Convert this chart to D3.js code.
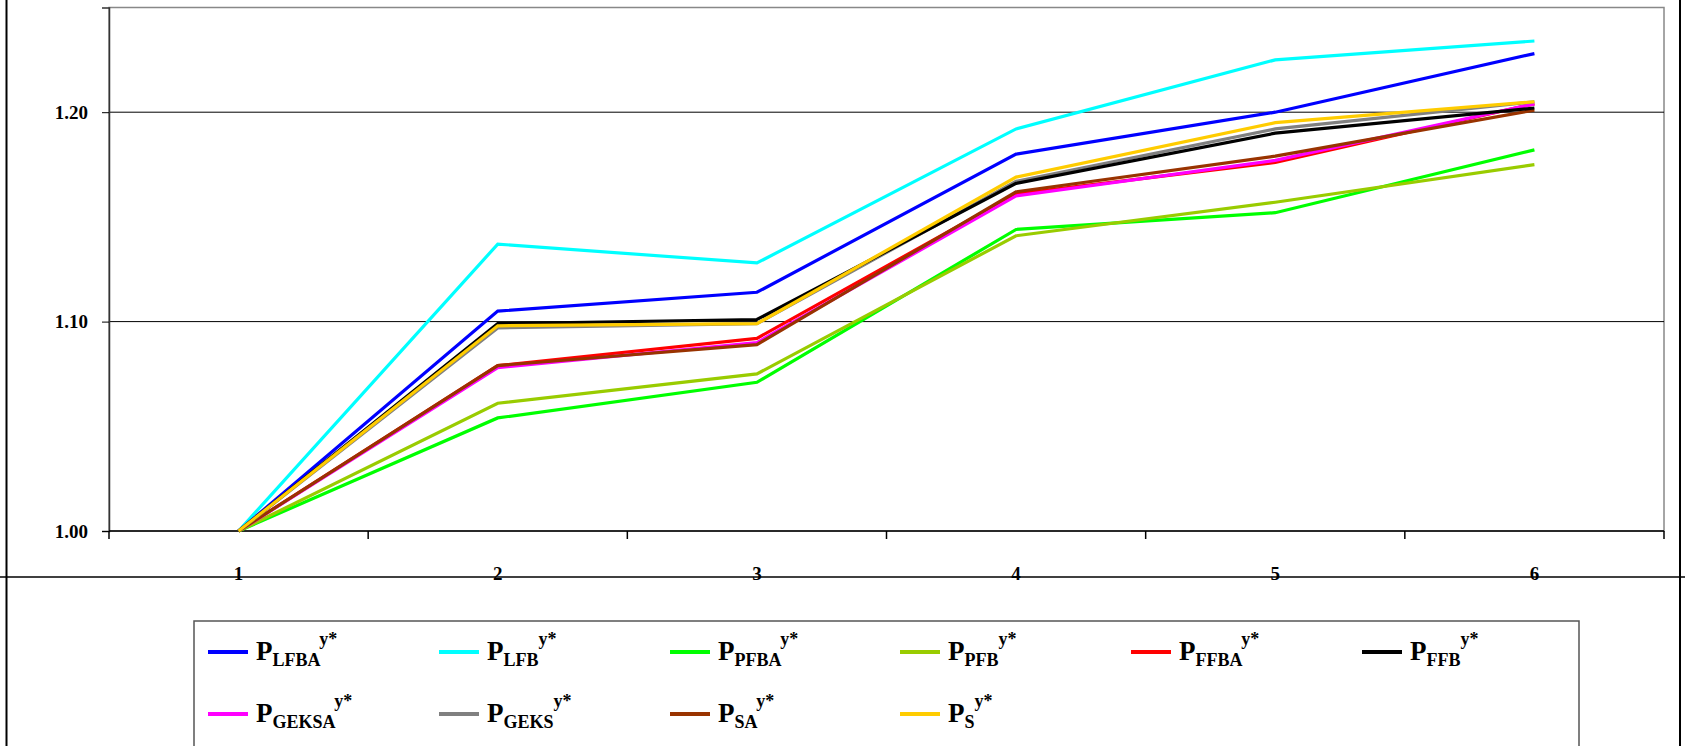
<!DOCTYPE html>
<html><head><meta charset="utf-8">
<script src="https://cdn.jsdelivr.net/npm/d3@7"></script>
<style>body{margin:0;background:#fff}svg{display:block}</style>
</head><body><div class="canvas"></div>
<script>
const categories = ["1", "2", "3", "4", "5", "6"]
const yTicks = [1.00, 1.10, 1.20]
const seriesNames = ["LFBA", "LFB", "PFBA", "PFB", "FFBA", "FFB", "GEKSA", "GEKS", "SA", "S"]
const seriesColors = ["#0000ff", "#00ffff", "#00ff00", "#99cc00", "#ff0000", "#000000", "#ff00ff", "#808080", "#993300", "#ffcc00"]
const LFBA = [1.000, 1.105, 1.114, 1.180, 1.200, 1.228]
const LFB = [1.000, 1.137, 1.128, 1.192, 1.225, 1.234]
const PFBA = [1.000, 1.054, 1.071, 1.144, 1.152, 1.182]
const PFB = [1.000, 1.061, 1.075, 1.141, 1.157, 1.175]
const FFBA = [1.000, 1.079, 1.092, 1.161, 1.176, 1.204]
const FFB = [1.000, 1.099, 1.101, 1.166, 1.190, 1.202]
const GEKSA = [1.000, 1.078, 1.090, 1.160, 1.177, 1.204]
const GEKS = [1.000, 1.097, 1.099, 1.167, 1.192, 1.205]
const SA = [1.000, 1.079, 1.089, 1.162, 1.179, 1.201]
const S = [1.000, 1.098, 1.099, 1.169, 1.195, 1.205]
const seriesValues = [LFBA, LFB, PFBA, PFB, FFBA, FFB, GEKSA, GEKS, SA, S]
// drawing order: last drawn on top
const drawOrder = [1, 0, 2, 3, 4, 6, 8, 7, 5, 9]

const W = 1685, H = 746
const mLeft = 109, mRight = 1664, mTop = 7.5, mBottom = 531
const FONT = "'Liberation Serif', 'DejaVu Serif', serif"

const svg = d3.select(".canvas").append("svg").attr("width", W).attr("height", H)

// outer frame
svg.append("line").attr("x1", 6.5).attr("x2", 6.5).attr("y1", 0).attr("y2", H).attr("stroke", "#000").attr("stroke-width", 2)
svg.append("line").attr("x1", 1680).attr("x2", 1680).attr("y1", 0).attr("y2", H).attr("stroke", "#000").attr("stroke-width", 2)
svg.append("line").attr("x1", 0).attr("x2", W).attr("y1", 577).attr("y2", 577).attr("stroke", "#000").attr("stroke-width", 1.5)

const x = d3.scaleBand().domain(categories).range([mLeft, mRight])
const y = d3.scaleLinear().domain([1, 1.25]).range([mBottom, mTop])

// plot border
svg.append("rect").attr("x", mLeft).attr("y", mTop).attr("width", mRight - mLeft).attr("height", mBottom - mTop)
    .attr("fill", "none").attr("stroke", "#888").attr("stroke-width", 1.5)

// gridlines
svg.selectAll(".grid").data(yTicks.slice(1)).enter().append("line")
    .attr("x1", mLeft).attr("x2", mRight).attr("y1", d => y(d)).attr("y2", d => y(d))
    .attr("stroke", "#000").attr("stroke-width", 1)

// y axis
const yAxis = svg.append("g").attr("transform", `translate(${mLeft},0)`)
    .call(d3.axisLeft(y).tickValues(yTicks).tickFormat(d3.format(".2f")).tickSize(7).tickPadding(14))
    .attr("font-family", FONT).attr("font-weight", "bold")
yAxis.select(".domain").attr("stroke", "#333").attr("stroke-width", 1.5)
yAxis.selectAll("text").attr("font-size", 19).attr("fill", "#000")

// x axis: ticks at band boundaries
const xb = svg.append("g").attr("font-family", FONT).attr("font-weight", "bold")
xb.append("line").attr("x1", mLeft).attr("x2", mRight).attr("y1", mBottom).attr("y2", mBottom).attr("stroke", "#000").attr("stroke-width", 1.5)
const bounds = categories.map(c => x(c)).concat([mRight])
xb.selectAll(".tk").data(bounds).enter().append("line")
    .attr("x1", d => d).attr("x2", d => d).attr("y1", mBottom).attr("y2", mBottom + 8).attr("stroke", "#000").attr("stroke-width", 1.5)
xb.selectAll(".lb").data(categories).enter().append("text")
    .attr("x", d => x(d) + x.bandwidth() / 2).attr("y", 580)
    .attr("text-anchor", "middle").attr("font-size", 19).text(d => d)

// lines
const line = d3.line().x((d, i) => x(categories[i]) + x.bandwidth() / 2).y(d => y(d))
svg.selectAll(".series").data(drawOrder).enter().append("path")
    .attr("d", i => line(seriesValues[i]))
    .attr("fill", "none").attr("stroke", i => seriesColors[i]).attr("stroke-width", 3.2)

// legend
svg.append("rect").attr("x", 194).attr("y", 621).attr("width", 1385).attr("height", 140)
    .attr("fill", "none").attr("stroke", "#555").attr("stroke-width", 1.5)
const colX = [208, 439, 670, 900, 1131, 1362]
const rowY = [652, 714]
const lg = svg.selectAll(".lg").data(seriesNames).enter().append("g")
    .attr("transform", (d, i) => `translate(${colX[i % 6]},${rowY[Math.floor(i / 6)]})`)
    .attr("font-family", FONT).attr("font-weight", "bold")
lg.append("line").attr("x1", 0).attr("x2", 40).attr("y1", 0).attr("y2", 0)
    .attr("stroke", (d, i) => seriesColors[i]).attr("stroke-width", 4)
const t = lg.append("text").attr("x", 48).attr("y", 8).attr("font-size", 27)
t.append("tspan").text("P")
t.append("tspan").attr("font-size", 18).attr("dy", 6).text(d => d)
t.append("tspan").attr("font-size", 18).attr("dy", -21).text("y*")
</script>
</body></html>
